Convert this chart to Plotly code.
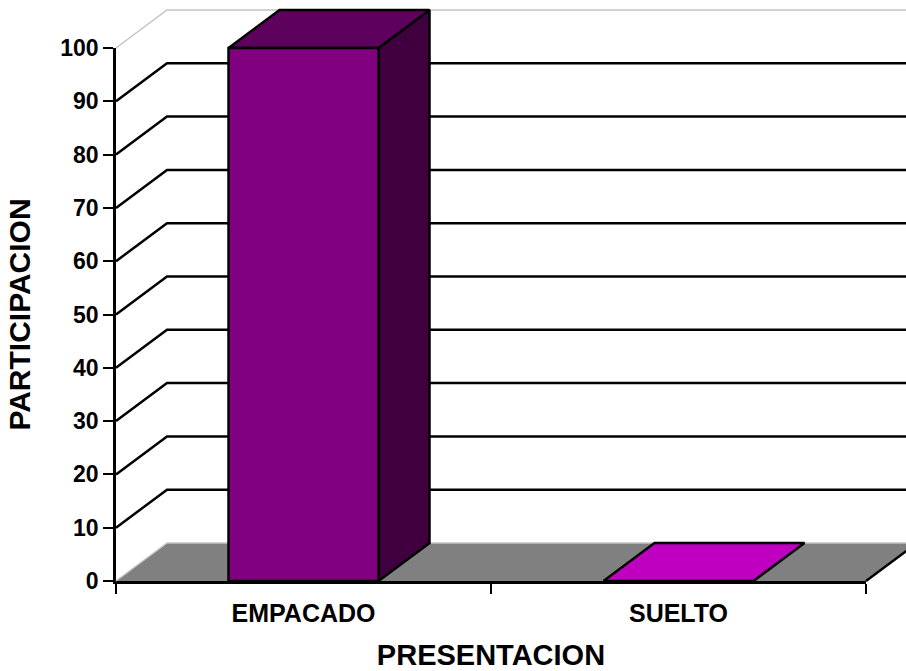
import plotly.graph_objects as go

categories = ["EMPACADO", "SUELTO"]
values = [100, 0]
front_colors = ["#800080", "#C000C0"]
top_colors = ["#5E005E", "#C000C0"]
side_colors = ["#400040", "#800080"]
y_ticks = [0, 10, 20, 30, 40, 50, 60, 70, 80, 90, 100]
x_title = "PRESENTACION"
y_title = "PARTICIPACION"

W, H = 906, 671
PX_L, PX_R, PX_T, PX_B = 116, 866, 48, 581   # front plane of the box, in pixels
SX = (PX_R - PX_L) / 2      # px per category
SY = (PX_B - PX_T) / 100    # px per value unit
BAR_W = 0.4
DX = 51 / SX
DY = 38 / SY
X0, X1 = -0.5, 1.5
BLACK = "#000000"
FONT = "Liberation Sans"

fig = go.Figure()


def poly(xs, ys, fill=None, line=BLACK, width=2.5):
    fig.add_trace(go.Scatter(
        x=xs, y=ys, xaxis="x3", yaxis="y3", mode="lines", hoverinfo="skip", showlegend=False,
        fill="toself" if fill else None, fillcolor=fill,
        line=dict(color=line, width=width, simplify=False),
    ))


# floor
poly([X0, X1, X1 + DX, X0 + DX, X0], [0, 0, DY, DY, 0], fill="#808080", line="rgba(0,0,0,0)", width=0)
# walls: diagonals and back gridlines
for v in y_ticks:
    col = "#C4C4C4" if v in (0, 100) else BLACK
    w = 1.5 if v in (0, 100) else 2.5
    poly([X0, X0 + DX, X1 + DX], [v, v + DY, v + DY], line=col, width=w)
poly([X1, X1 + DX], [0, DY])

# bars
for i, v in enumerate(values):
    a, b = i - BAR_W / 2, i + BAR_W / 2
    if v > 0:
        poly([b, b + DX, b + DX, b, b], [0, DY, v + DY, v, 0], fill=side_colors[i])
        poly([a, a + DX, b + DX, b, a], [v, v + DY, v + DY, v, v], fill=top_colors[i])
        poly([a, b, b, a, a], [0, 0, v, v, 0], fill=front_colors[i])
    else:
        poly([a, a + DX, b + DX, b, a], [v, v + DY, v + DY, v, v], fill=top_colors[i])

# invisible carriers so that the visible axes get drawn
for xa in ("x", "x2"):
    fig.add_trace(go.Scatter(x=[0, 1], y=values, xaxis=xa, yaxis="y", mode="markers",
                             marker=dict(opacity=0, size=1), hoverinfo="skip", showlegend=False))

tick_font = dict(family=FONT, size=23, color=BLACK, weight=700)
cat_font = dict(family=FONT, size=25, color=BLACK, weight=700)
x_title_font = dict(family=FONT, size=29, color=BLACK, weight=700)
y_title_font = dict(family=FONT, size=30, color=BLACK, weight=700)

x_domain = [PX_L / W, PX_R / W]
y_domain = [(H - PX_B) / H, (H - PX_T) / H]

fig.update_layout(
    width=W, height=H,
    margin=dict(l=0, r=0, t=0, b=0, autoexpand=False),
    paper_bgcolor="#FFFFFF", plot_bgcolor="rgba(0,0,0,0)",
    showlegend=False,
    xaxis=dict(domain=x_domain, anchor="y", range=[X0, X1], tickvals=[-0.5, 0.5, 1.5],
               ticktext=["", "", ""], ticks="outside", ticklen=10, tickwidth=2, tickcolor=BLACK,
               showgrid=False, zeroline=False, showline=True, linewidth=2.5, linecolor=BLACK,
               automargin=False,
               title=dict(text=x_title, font=x_title_font, standoff=49), tickfont=tick_font),
    xaxis2=dict(domain=x_domain, overlaying="x", anchor="y", side="bottom", range=[X0, X1],
                tickvals=[0, 1], ticktext=categories, ticks="outside", ticklen=10,
                tickcolor="rgba(0,0,0,0)", showgrid=False, zeroline=False, showline=False,
                automargin=False, tickfont=cat_font),
    yaxis=dict(domain=y_domain, anchor="x", range=[0, 100], tickvals=y_ticks, ticks="outside",
               ticklen=10, tickwidth=2, tickcolor=BLACK, showgrid=False, zeroline=False,
               showline=True, linewidth=2.5, linecolor=BLACK, tickfont=tick_font, automargin=False,
               title=dict(text=y_title, font=y_title_font, standoff=21)),
    xaxis3=dict(domain=[0, 1], anchor="y3", range=[X0 - PX_L / SX, X0 + (W - PX_L) / SX],
                visible=False),
    yaxis3=dict(domain=[0, 1], anchor="x3", range=[-(H - PX_B) / SY, PX_B / SY], visible=False),
)

fig.write_html("out.html", config={"displayModeBar": False},
               post_script="document.body.style.margin='0';")
